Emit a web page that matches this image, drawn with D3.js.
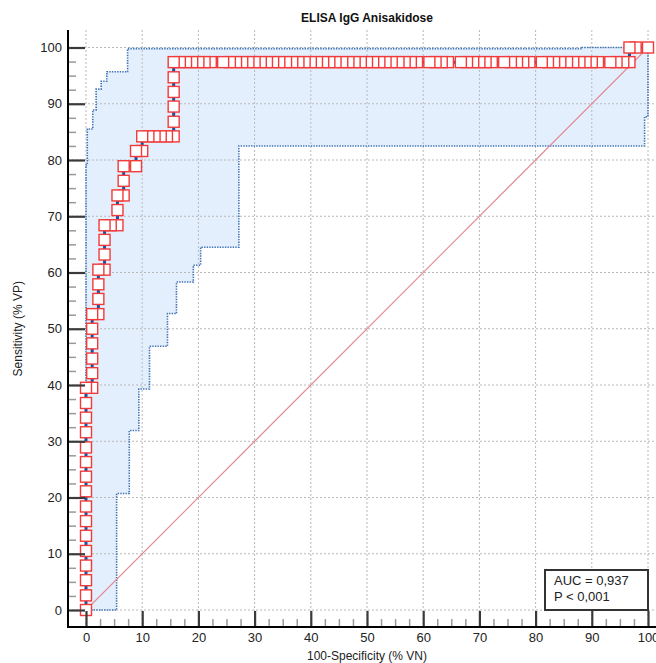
<!DOCTYPE html>
<meta charset="utf-8">
<style>
body { margin: 0; background: #fff; }
svg { display: block; font-family: "Liberation Sans", Arial, sans-serif; }
.grid line { stroke: #b8b8b8; stroke-width: 1; stroke-dasharray: 2,2; }
</style>
<body>
<script src="https://d3js.org/d3.v7.min.js"></script>
<script>
// chart texts
var chartTitle = "ELISA IgG Anisakidose";
var xTitle = "100-Specificity (% VN)";
var yTitle = "Sensitivity (% VP)";
var statLines = ["AUC = 0,937", "P < 0,001"];

// tick labels
var xTicks = [0, 10, 20, 30, 40, 50, 60, 70, 80, 90, 100];
var yTicks = [0, 10, 20, 30, 40, 50, 60, 70, 80, 90, 100];

// ROC points (100-specificity %, sensitivity %)
var rocFpr = [0, 0, 0, 0, 0, 0, 0, 0, 0, 0, 0, 0, 0, 0, 0, 0,
    1.1, 1.1, 1.1, 1.1, 1.1, 1.1,
    2.2, 2.2, 2.2, 2.2,
    3.3, 3.3, 3.3, 3.3,
    4.4, 5.6, 5.6, 5.6,
    6.7, 6.7, 6.7,
    8.9, 8.9,
    10.0, 10.0,
    11.1, 12.2, 13.3, 14.4, 15.6,
    15.6, 15.6, 15.6, 15.6, 15.6,
    16.7, 17.8, 18.9, 20.0, 21.1, 22.2, 24.4, 25.6, 26.7, 27.8, 28.9, 30.0,
    31.1, 32.2, 33.3, 34.4, 35.6, 36.7, 37.8, 38.9, 40.0, 41.1, 42.2, 43.3,
    44.4, 45.6, 46.7, 47.8, 48.9, 50.0, 51.1, 52.2, 53.3, 54.4, 55.6, 56.7,
    57.8, 58.9, 61.1, 62.2, 63.3, 64.4, 66.7, 67.8, 68.9, 70.0, 71.1, 72.2,
    74.4, 75.6, 76.7, 77.8, 78.9, 81.1, 82.2, 83.3, 84.4, 85.6, 86.7, 87.8,
    88.9, 90.0, 91.1, 93.3, 94.4, 95.6, 96.7,
    96.7, 97.8, 100];
var rocSens = [0, 2.6, 5.3, 7.9, 10.5, 13.2, 15.8, 18.4, 21.1, 23.7, 26.3, 28.9, 31.6, 34.2, 36.8, 39.5,
    39.5, 42.1, 44.7, 47.4, 50.0, 52.6,
    52.6, 55.3, 57.9, 60.5,
    60.5, 63.2, 65.8, 68.4,
    68.4, 68.4, 71.1, 73.7,
    73.7, 76.3, 78.9,
    78.9, 81.6,
    81.6, 84.2,
    84.2, 84.2, 84.2, 84.2, 84.2,
    86.8, 89.5, 92.1, 94.7, 97.4,
    97.4, 97.4, 97.4, 97.4, 97.4, 97.4, 97.4, 97.4, 97.4, 97.4, 97.4, 97.4,
    97.4, 97.4, 97.4, 97.4, 97.4, 97.4, 97.4, 97.4, 97.4, 97.4, 97.4, 97.4,
    97.4, 97.4, 97.4, 97.4, 97.4, 97.4, 97.4, 97.4, 97.4, 97.4, 97.4, 97.4,
    97.4, 97.4, 97.4, 97.4, 97.4, 97.4, 97.4, 97.4, 97.4, 97.4, 97.4, 97.4,
    97.4, 97.4, 97.4, 97.4, 97.4, 97.4, 97.4, 97.4, 97.4, 97.4, 97.4, 97.4,
    97.4, 97.4, 97.4, 97.4, 97.4, 97.4, 97.4,
    100, 100, 100];

// confidence band, upper and lower step boundaries (x %, y %)
var bandUpperX = [0, 0, 0.23, 0.23, 1.2, 1.2, 1.8, 1.8, 2.7, 2.7, 3.7, 3.7, 7.4, 7.4, 88.3, 88.3, 100];
var bandUpperY = [0, 79.1, 79.1, 85.5, 85.5, 88.9, 88.9, 92.6, 92.6, 94.0, 94.0, 95.7, 95.7, 99.8, 99.8, 100, 100];
var bandLowerX = [100, 100, 99.4, 99.4, 27.2, 27.2, 20.4, 20.4, 19.1, 19.1, 16.1, 16.1, 14.5, 14.5, 11.3, 11.3, 9.4, 9.4, 7.7, 7.7, 5.45, 5.45, 0];
var bandLowerY = [100, 87.7, 87.7, 82.5, 82.5, 64.5, 64.5, 61.3, 61.3, 58.3, 58.3, 52.7, 52.7, 46.9, 46.9, 39.3, 39.3, 31.9, 31.9, 20.7, 20.7, 0, 0];

var W = 656, H = 663;
var axisX = 68, axisY = 627, frameTop = 30, frameRight = 656;

var svg = d3.select("body").append("svg")
    .attr("width", W)
    .attr("height", H);

var x = d3.scaleLinear().domain([0, 100]).range([86, 648]);
var y = d3.scaleLinear().domain([0, 100]).range([610, 47.5]);

var line = d3.line()
    .x(function(d) { return x(d[0]); })
    .y(function(d) { return y(d[1]); });

// band polygon
var upper = bandUpperX.map(function(v, i) { return [v, bandUpperY[i]]; });
var lower = bandLowerX.map(function(v, i) { return [v, bandLowerY[i]]; });

svg.append("path")
    .attr("d", line(upper.concat(lower)) + "Z")
    .attr("fill", "#e4effd")
    .attr("stroke", "none");

// grid
var grid = svg.append("g").attr("class", "grid");
grid.selectAll(".gx")
    .data(xTicks)
    .enter().append("line")
    .attr("x1", function(d) { return x(d); })
    .attr("x2", function(d) { return x(d); })
    .attr("y1", frameTop)
    .attr("y2", axisY);
grid.selectAll(".gy")
    .data(yTicks)
    .enter().append("line")
    .attr("x1", axisX)
    .attr("x2", frameRight)
    .attr("y1", function(d) { return y(d); })
    .attr("y2", function(d) { return y(d); });

// band outline (dotted)
svg.append("path")
    .attr("d", line(upper))
    .attr("fill", "none")
    .attr("stroke", "#3f73b6")
    .attr("stroke-width", 1.6)
    .attr("stroke-dasharray", "1.4,1.2");
svg.append("path")
    .attr("d", line(lower))
    .attr("fill", "none")
    .attr("stroke", "#3f73b6")
    .attr("stroke-width", 1.6)
    .attr("stroke-dasharray", "1.4,1.2");

// reference diagonal
svg.append("line")
    .attr("x1", x(0)).attr("y1", y(0))
    .attr("x2", x(100)).attr("y2", y(100))
    .attr("stroke", "#e08a92")
    .attr("stroke-width", 1.1);

// ROC line
var roc = rocFpr.map(function(v, i) { return [v, rocSens[i]]; });
svg.append("path")
    .attr("d", line(roc))
    .attr("fill", "none")
    .attr("stroke", "#1d4f9e")
    .attr("stroke-width", 3);

// markers, drawn from the last point back so the lower-left ones sit on top
var sq = 11;
svg.append("g").selectAll("rect")
    .data(roc.slice().reverse())
    .enter().append("rect")
    .attr("x", function(d) { return x(d[0]) - sq / 2; })
    .attr("y", function(d) { return y(d[1]) - sq / 2; })
    .attr("width", sq)
    .attr("height", sq)
    .attr("fill", "#fff")
    .attr("stroke", "#f23a3a")
    .attr("stroke-width", 1.4);

// axes
var minor = d3.range(0, 100.1, 2.5).filter(function(v) { return v % 10 !== 0; });

var yMinor = svg.append("g")
    .attr("transform", "translate(" + axisX + ",0)")
    .call(d3.axisLeft(y).tickValues(minor).tickSizeInner(-8).tickSizeOuter(0).tickFormat(""));
var yAxis = svg.append("g")
    .attr("transform", "translate(" + axisX + ",0)")
    .call(d3.axisLeft(y).tickValues(yTicks).tickSizeInner(-17).tickSizeOuter(0).tickPadding(6));
var xMinor = svg.append("g")
    .attr("transform", "translate(0," + axisY + ")")
    .call(d3.axisBottom(x).tickValues(minor).tickSizeInner(-8).tickSizeOuter(0).tickFormat(""));
var xAxis = svg.append("g")
    .attr("transform", "translate(0," + axisY + ")")
    .call(d3.axisBottom(x).tickValues(xTicks).tickSizeInner(-16).tickSizeOuter(0).tickPadding(6));

[yMinor, yAxis, xMinor, xAxis].forEach(function(g) { g.select(".domain").remove(); });
[yMinor, xMinor].forEach(function(g) {
    g.selectAll(".tick line").attr("stroke", "#9a9a9a").attr("stroke-width", 1.5);
});
[yAxis, xAxis].forEach(function(g) {
    g.selectAll(".tick line").attr("stroke", "#3a3a3a").attr("stroke-width", 2.2);
    g.selectAll(".tick text")
        .attr("fill", "#222")
        .style("font-size", "13px")
        .style("font-family", "'Liberation Sans', Arial, sans-serif");
});

svg.append("line")
    .attr("x1", axisX).attr("x2", axisX)
    .attr("y1", frameTop).attr("y2", axisY + 1)
    .attr("stroke", "#000").attr("stroke-width", 2);
svg.append("line")
    .attr("x1", axisX - 1).attr("x2", frameRight)
    .attr("y1", axisY).attr("y2", axisY)
    .attr("stroke", "#000").attr("stroke-width", 2);

// titles
svg.append("text")
    .attr("x", 367).attr("y", 22)
    .attr("text-anchor", "middle")
    .style("font-size", "12px")
    .style("font-weight", "bold")
    .attr("fill", "#111")
    .text(chartTitle);

svg.append("text")
    .attr("x", 367).attr("y", 660)
    .attr("text-anchor", "middle")
    .style("font-size", "12px")
    .attr("fill", "#222")
    .text(xTitle);

svg.append("text")
    .attr("transform", "translate(22," + ((y(0) + y(100)) / 2) + ") rotate(-90)")
    .attr("text-anchor", "middle")
    .style("font-size", "12px")
    .attr("fill", "#222")
    .text(yTitle);

// statistics box
var bw = 103, bh = 40;
var box = svg.append("g")
    .attr("transform", "translate(" + (x(100) - bw) + "," + (y(0) - bh) + ")");
box.append("rect")
    .attr("width", bw).attr("height", bh)
    .attr("fill", "#fff")
    .attr("stroke", "#333")
    .attr("stroke-width", 2);
box.selectAll("text")
    .data(statLines)
    .enter().append("text")
    .attr("x", 9)
    .attr("y", function(d, i) { return 15 + i * 16; })
    .style("font-size", "13px")
    .attr("fill", "#222")
    .text(function(d) { return d; });
</script>
</body>
